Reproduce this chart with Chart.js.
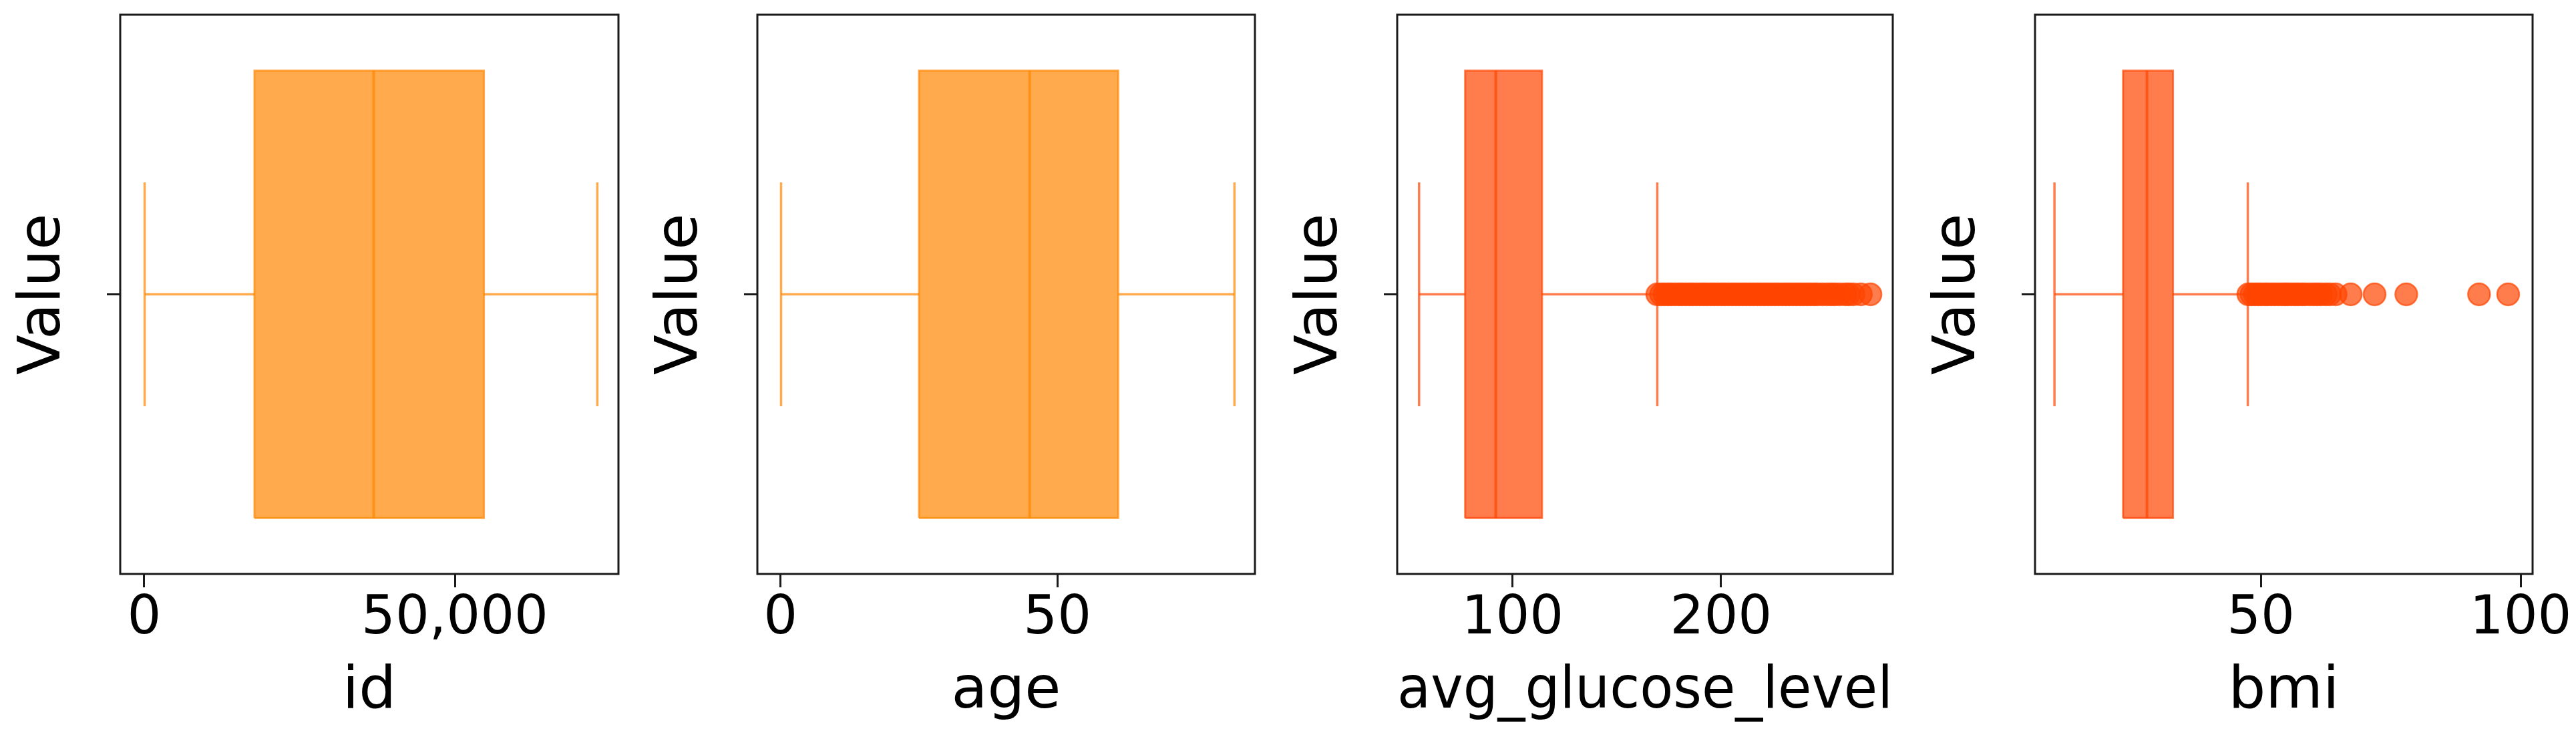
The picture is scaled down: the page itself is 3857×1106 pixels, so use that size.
<!DOCTYPE html>
<html>
<head>
<meta charset="utf-8">
<script src="https://cdn.jsdelivr.net/npm/chart.js@4/dist/chart.umd.min.js"></script>
<style>
html, body { margin: 0; padding: 0; background: #fff; }
body { width: 3857px; height: 1106px; position: relative; overflow: hidden; }
canvas { position: absolute; top: 0; }
</style>
</head>
<body>
<script>
// box statistics
const features = ['id', 'age', 'avg_glucose_level', 'bmi'];
const whiskerLow = [67, 0.08, 55.1, 10.3];
const q1 = [17741, 25, 77.2, 23.5];
const median = [36932, 45, 91.9, 28.1];
const q3 = [54682, 61, 114.1, 33.1];
const whiskerHigh = [72940, 82, 169.4, 47.5];

const glucoseOutliers = [169.4, 171.2, 172.9, 174.6, 176.1, 178.0, 179.8, 181.3, 183.1, 184.9,
  186.4, 188.2, 190.0, 191.7, 193.3, 195.1, 196.8, 198.5, 200.3, 201.9, 203.6, 205.4, 207.1,
  208.8, 210.5, 212.2, 213.9, 215.6, 217.4, 219.0, 220.8, 222.5, 224.2, 225.9, 227.6, 229.4,
  231.1, 232.7, 234.5, 236.2, 237.9, 239.6, 241.3, 243.0, 244.8, 246.3, 248.6, 250.9, 252.9,
  254.6, 256.9, 259.6, 261.3, 263.5, 267.1, 271.7];
const bmiOutliers = [47.6, 48.2, 48.9, 49.5, 50.1, 50.8, 51.3, 52.0, 52.7, 53.4, 54.1, 54.7,
  55.2, 55.9, 56.6, 57.2, 57.9, 58.5, 59.4, 60.2, 60.9, 61.6, 62.5, 63.3, 64.4, 67.3, 71.9,
  78.0, 92.0, 97.6];
const outliers = [[], [], glucoseOutliers, bmiOutliers];

const xTicks = [[0, 50000], [0, 50], [100, 200], [50, 100]];
const xRanges = [[-3870, 76340], [-4.2, 85.7], [44.6, 282.4], [6.56, 102.3]];
const colors = ['rgba(255,134,0,0.7)', 'rgba(255,134,0,0.7)', 'rgba(255,69,0,0.7)', 'rgba(255,69,0,0.7)'];

// canvas placement
const canvasLeft = [0, 954, 1912, 2867];
const canvasWidth = [954, 958, 955, 990];
const padRight = [28, 33, 33, 65];

Chart.defaults.font.family = "'DejaVu Sans', sans-serif";
Chart.defaults.color = '#000';

const framePlugin = {
  id: 'frame',
  afterDatasetsDraw(chart) {
    const a = chart.chartArea, ctx = chart.ctx;
    ctx.save();
    ctx.strokeStyle = '#1a1a1a';
    ctx.lineWidth = 3;
    ctx.strokeRect(a.left, a.top, a.right - a.left, a.bottom - a.top);
    ctx.restore();
  }
};

function seg(points, color, width) {
  return {
    data: points,
    showLine: true,
    fill: false,
    borderColor: color,
    borderWidth: width,
    pointRadius: 0
  };
}

for (let i = 0; i < features.length; i++) {
  const c = document.createElement('canvas');
  c.width = canvasWidth[i];
  c.height = 1106;
  c.style.left = canvasLeft[i] + 'px';
  c.style.width = canvasWidth[i] + 'px';
  c.style.height = '1106px';
  document.body.appendChild(c);

  const col = colors[i];
  const datasets = [
    {
      data: [{x: q1[i], y: 0.4}, {x: q3[i], y: 0.4}],
      showLine: true,
      fill: {value: -0.4},
      backgroundColor: col,
      borderWidth: 0,
      pointRadius: 0
    },
    seg([{x: q1[i], y: -0.4}, {x: q3[i], y: -0.4}, {x: q3[i], y: 0.4}, {x: q1[i], y: 0.4}, {x: q1[i], y: -0.4}], col, 3),
    seg([{x: median[i], y: -0.4}, {x: median[i], y: 0.4}], col, 4),
    seg([{x: whiskerLow[i], y: 0}, {x: q1[i], y: 0}], col, 3.5),
    seg([{x: q3[i], y: 0}, {x: whiskerHigh[i], y: 0}], col, 3.5),
    seg([{x: whiskerLow[i], y: -0.2}, {x: whiskerLow[i], y: 0.2}], col, 3.5),
    seg([{x: whiskerHigh[i], y: -0.2}, {x: whiskerHigh[i], y: 0.2}], col, 3.5),
    {
      data: outliers[i].map(v => ({x: v, y: 0})),
      showLine: false,
      pointRadius: 16.5,
      pointBackgroundColor: col,
      pointBorderColor: col,
      pointBorderWidth: 2.5
    }
  ];

  new Chart(c, {
    type: 'scatter',
    data: {datasets: datasets},
    plugins: [framePlugin],
    options: {
      responsive: false,
      animation: false,
      events: [],
      layout: {padding: {top: 22, right: padRight[i], bottom: 0, left: 0}},
      plugins: {legend: {display: false}, tooltip: {enabled: false}},
      scales: {
        x: {
          type: 'linear',
          min: xRanges[i][0],
          max: xRanges[i][1],
          afterBuildTicks: s => { s.ticks = xTicks[i].map(v => ({value: v})); },
          afterFit: s => { s.height = 247; },
          grid: {drawOnChartArea: false, tickLength: 20, tickWidth: 3, tickColor: '#1a1a1a'},
          border: {display: false},
          ticks: {
            padding: 0,
            maxRotation: 0,
            font: {size: 80},
            callback: v => v.toLocaleString('en-US')
          },
          title: {display: true, text: features[i], font: {size: 88}, padding: {top: 0, bottom: 17}}
        },
        y: {
          type: 'linear',
          min: -0.5,
          max: 0.5,
          afterBuildTicks: s => { s.ticks = [{value: 0}]; },
          afterFit: s => { s.width = 180; },
          grid: {drawOnChartArea: false, tickLength: 20, tickWidth: 3, tickColor: '#1a1a1a'},
          border: {display: false},
          ticks: {callback: () => ''},
          title: {display: true, text: 'Value', font: {size: 88}, padding: {top: 13, bottom: 0}}
        }
      }
    }
  });
}
</script>
</body>
</html>
